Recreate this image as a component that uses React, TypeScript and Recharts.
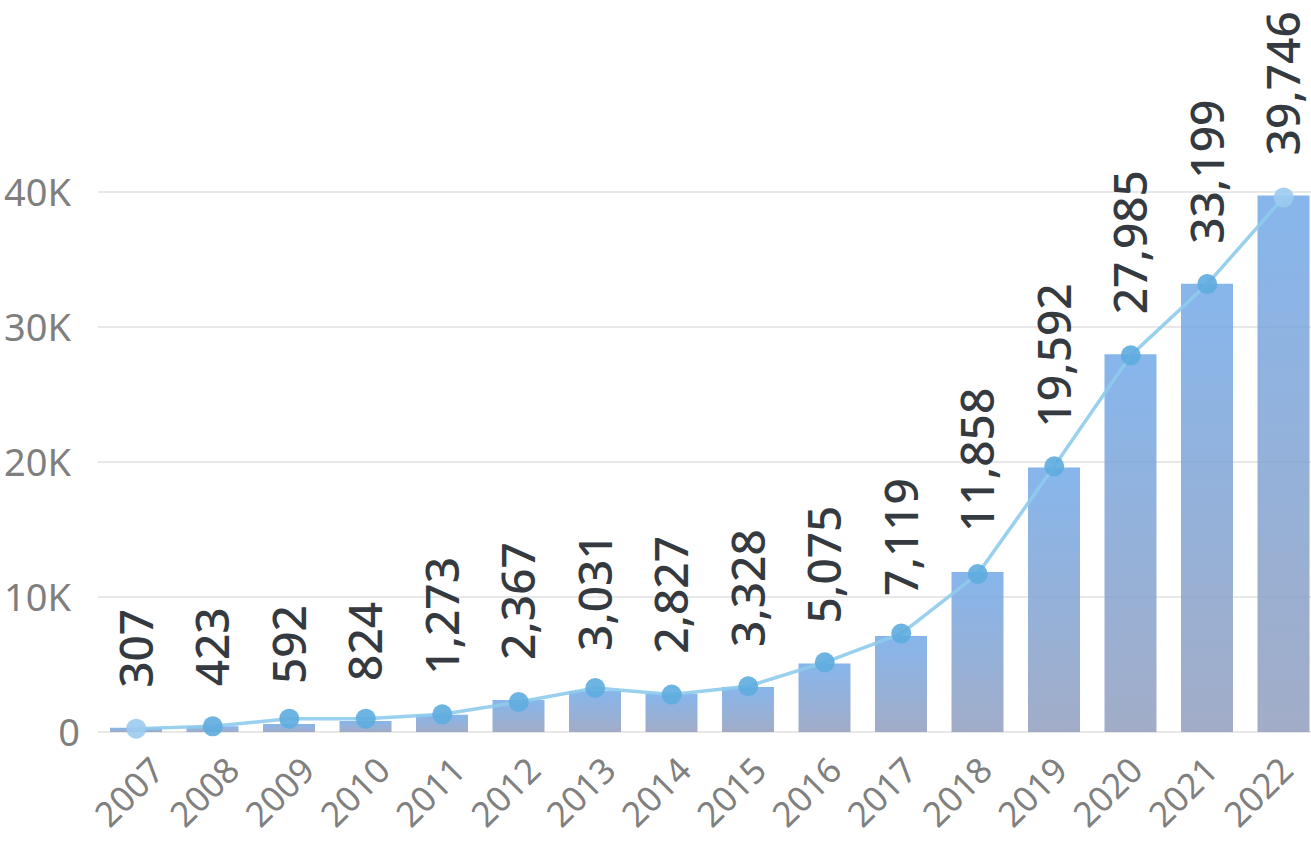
import React from 'react';
import {
  ComposedChart,
  Bar,
  Line,
  XAxis,
  YAxis,
  CartesianGrid,
  LabelList,
} from 'recharts';

// yearly totals (bars) and trend line values
const years = ['2007', '2008', '2009', '2010', '2011', '2012', '2013', '2014', '2015', '2016', '2017', '2018', '2019', '2020', '2021', '2022'];
const totals = [307, 423, 592, 824, 1273, 2367, 3031, 2827, 3328, 5075, 7119, 11858, 19592, 27985, 33199, 39746];
const trend = [250, 420, 990, 990, 1310, 2220, 3260, 2770, 3390, 5160, 7290, 11700, 19680, 27900, 33180, 39600];
const yTicks = [0, 10000, 20000, 30000, 40000];

const data = years.map((year, i) => ({ year, total: totals[i], trend: trend[i] }));

const FONT = '"Noto Sans", Roboto, sans-serif';

const YTick = ({ y, payload }: any) => {
  const v = payload.value;
  const label = v === 0 ? '0' : `${v / 1000}K`;
  return (
    <text x={v === 0 ? 80 : 71} y={y} dy="0.36em" textAnchor="end" fill="#7f7f7f" fontSize={38} fontFamily={FONT}>
      {label}
    </text>
  );
};

// year labels sit on a slightly tighter spacing than the bars
const XTick = ({ x, y, payload, index }: any) => (
  <g transform={`translate(${x - 7 - 1.23 * index},${y + 60})`}>
    <text x={0} y={0} dy="0.36em" textAnchor="middle" transform="rotate(-45)" fill="#808080" fontSize={35} fontFamily={FONT}>
      {payload.value}
    </text>
  </g>
);

const ValueLabel = ({ x, y, width, value }: any) => {
  const cx = x + width / 2;
  const cy = y - 40;
  return (
    <text
      x={cx}
      y={cy}
      dy="0.36em"
      textAnchor="start"
      transform={`rotate(-90, ${cx}, ${cy})`}
      fill="#343a40"
      fontSize={46}
      fontWeight={500}
      fontFamily={FONT}
    >
      {Number(value).toLocaleString('en-US')}
    </text>
  );
};

const TrendDot = ({ cx, cy, index }: any) => {
  const edge = index === 0 || index === years.length - 1;
  return <circle key={index} cx={cx} cy={cy} r={10} fill={edge ? '#9ccbef' : '#5eacdf'} fillOpacity={0.9} />;
};

export default function App() {
  return (
    <div style={{ position: 'fixed', left: 0, top: 0, width: 1311, height: 845, overflow: 'hidden', background: '#fff' }}>
      <ComposedChart width={1322} height={845} data={data} margin={{ top: 192, right: 0, left: 0, bottom: 0 }}>
        <defs>
          <linearGradient id="barFill" x1="0" y1="0" x2="0" y2="1">
            <stop offset="0%" stopColor="#72a9e8" stopOpacity={0.85} />
            <stop offset="100%" stopColor="#919ebe" stopOpacity={0.85} />
          </linearGradient>
        </defs>
        <CartesianGrid vertical={false} stroke="#e0e0e0" strokeWidth={1.5} />
        <XAxis
          dataKey="year"
          axisLine={false}
          tickLine={false}
          tickSize={0}
          tickMargin={0}
          height={113}
          interval={0}
          tick={<XTick />}
        />
        <YAxis
          domain={[0, 40000]}
          ticks={yTicks}
          axisLine={false}
          tickLine={false}
          width={98}
          tick={<YTick />}
        />
        <Bar dataKey="total" fill="url(#barFill)" barSize={52} isAnimationActive={false}>
          <LabelList dataKey="total" content={<ValueLabel />} />
        </Bar>
        <Line
          type="linear"
          dataKey="trend"
          stroke="#8ecbec"
          strokeWidth={3.5}
          strokeOpacity={0.9}
          dot={<TrendDot />}
          activeDot={false}
          isAnimationActive={false}
        />
      </ComposedChart>
    </div>
  );
}
